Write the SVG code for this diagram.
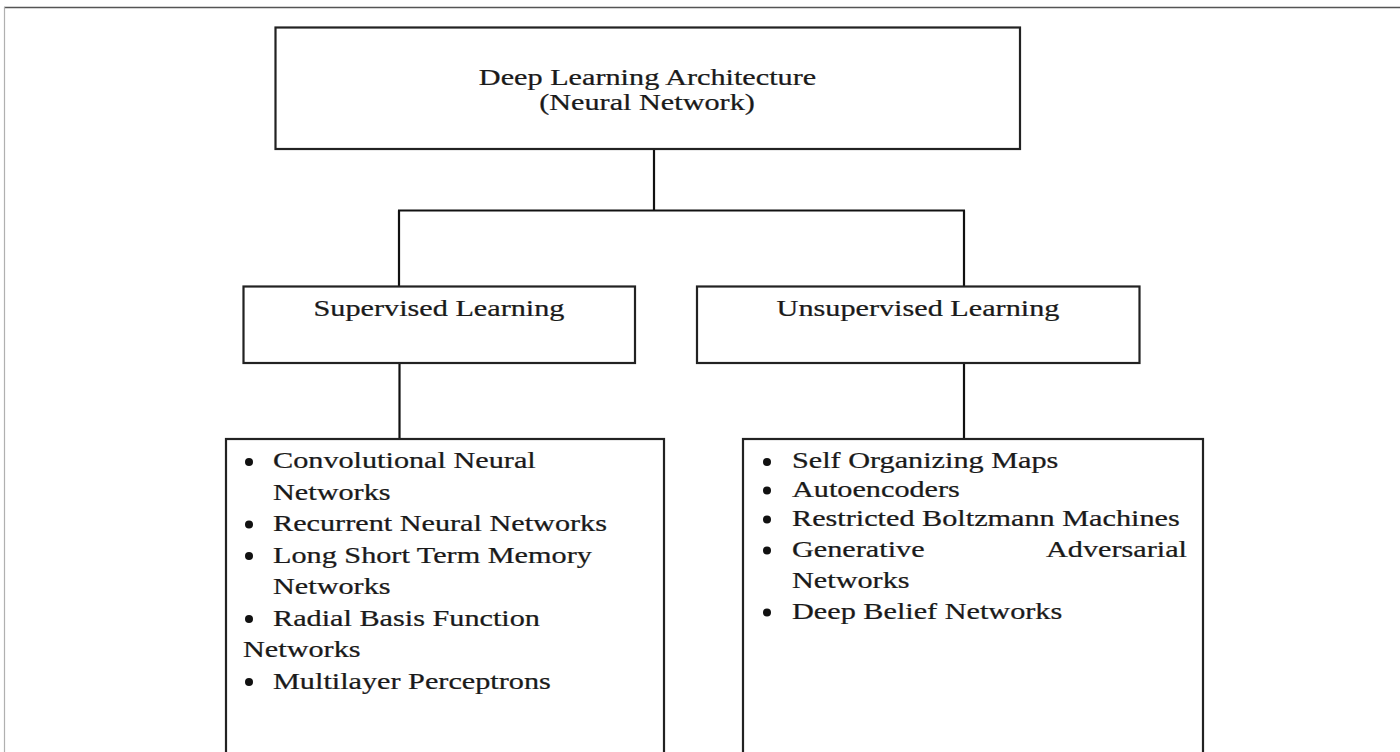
<svg xmlns="http://www.w3.org/2000/svg" width="1400" height="752" viewBox="0 0 1400 752">
  <style>
    .frame { fill: none; stroke: #555; stroke-width: 1.5; }
    .frame-side { fill: none; stroke: #b0b0b0; stroke-width: 1.2; }
    .box { fill: #fff; stroke: #222; stroke-width: 2.2; }
    .wire { fill: none; stroke: #111; stroke-width: 2.2; }
    .t { font-family: "Liberation Serif", "Times New Roman", serif; font-size: 24px; fill: #1a1a1a; stroke: #1a1a1a; stroke-width: 0.25; }
    .c { text-anchor: middle; }
    .e { text-anchor: end; }
    .dot { fill: #111; }
  </style>

  <rect width="1400" height="752" fill="#fff"/>

  <!-- page frame -->
  <line class="frame" x1="4" y1="7.5" x2="1400" y2="7.5"/>
  <line class="frame-side" x1="4.5" y1="7" x2="4.5" y2="752"/>

  <!-- connectors -->
  <g id="connectors">
    <line class="wire" x1="654" y1="149" x2="654" y2="210.5"/>
    <line class="wire" x1="398" y1="210.5" x2="965" y2="210.5"/>
    <line class="wire" x1="399" y1="210.5" x2="399" y2="286"/>
    <line class="wire" x1="964" y1="210.5" x2="964" y2="286"/>
    <line class="wire" x1="399.5" y1="363" x2="399.5" y2="439"/>
    <line class="wire" x1="964" y1="363" x2="964" y2="439"/>
  </g>

  <!-- root -->
  <g id="root">
    <rect class="box" x="275.5" y="27.5" width="744.5" height="121.5"/>
    <text class="t c" transform="translate(647.5 85) scale(1.26 1)">Deep Learning Architecture</text>
    <text class="t c" transform="translate(647 110) scale(1.26 1)">(Neural Network)</text>
  </g>

  <!-- supervised branch -->
  <g id="supervised">
    <rect class="box" x="243.5" y="286.5" width="391.5" height="76.5"/>
    <text class="t c" transform="translate(439 316) scale(1.26 1)">Supervised Learning</text>
  </g>

  <!-- unsupervised branch -->
  <g id="unsupervised">
    <rect class="box" x="697" y="286.5" width="442.5" height="76.5"/>
    <text class="t c" transform="translate(918 316) scale(1.26 1)">Unsupervised Learning</text>
  </g>

  <!-- supervised methods -->
  <g id="supervised-list">
    <rect class="box" x="226" y="439" width="438" height="330"/>
    <circle class="dot" cx="249" cy="462" r="4"/>
    <text class="t" transform="translate(273 468) scale(1.26 1)">Convolutional Neural</text>
    <text class="t" transform="translate(273 499.5) scale(1.26 1)">Networks</text>
    <circle class="dot" cx="249" cy="524.5" r="4"/>
    <text class="t" transform="translate(273 531) scale(1.26 1)">Recurrent Neural Networks</text>
    <circle class="dot" cx="249" cy="556" r="4"/>
    <text class="t" transform="translate(273 562.5) scale(1.26 1)">Long Short Term Memory</text>
    <text class="t" transform="translate(273 594) scale(1.26 1)">Networks</text>
    <circle class="dot" cx="249" cy="619" r="4"/>
    <text class="t" transform="translate(273 625.5) scale(1.26 1)">Radial Basis Function</text>
    <text class="t" transform="translate(243 657) scale(1.26 1)">Networks</text>
    <circle class="dot" cx="249" cy="682" r="4"/>
    <text class="t" transform="translate(273 688.5) scale(1.26 1)">Multilayer Perceptrons</text>
  </g>

  <!-- unsupervised methods -->
  <g id="unsupervised-list">
    <rect class="box" x="743" y="439" width="460" height="330"/>
    <circle class="dot" cx="767" cy="462" r="4"/>
    <text class="t" transform="translate(792 468) scale(1.26 1)">Self Organizing Maps</text>
    <circle class="dot" cx="767" cy="490.5" r="4"/>
    <text class="t" transform="translate(792 497) scale(1.26 1)">Autoencoders</text>
    <circle class="dot" cx="767" cy="519.5" r="4"/>
    <text class="t" transform="translate(792 526) scale(1.26 1)">Restricted Boltzmann Machines</text>
    <circle class="dot" cx="767" cy="550.5" r="4"/>
    <text class="t" transform="translate(792 557) scale(1.26 1)">Generative</text>
    <text class="t e" transform="translate(1187 557) scale(1.26 1)">Adversarial</text>
    <text class="t" transform="translate(792 588) scale(1.26 1)">Networks</text>
    <circle class="dot" cx="767" cy="612.5" r="4"/>
    <text class="t" transform="translate(792 619) scale(1.26 1)">Deep Belief Networks</text>
  </g>
</svg>
